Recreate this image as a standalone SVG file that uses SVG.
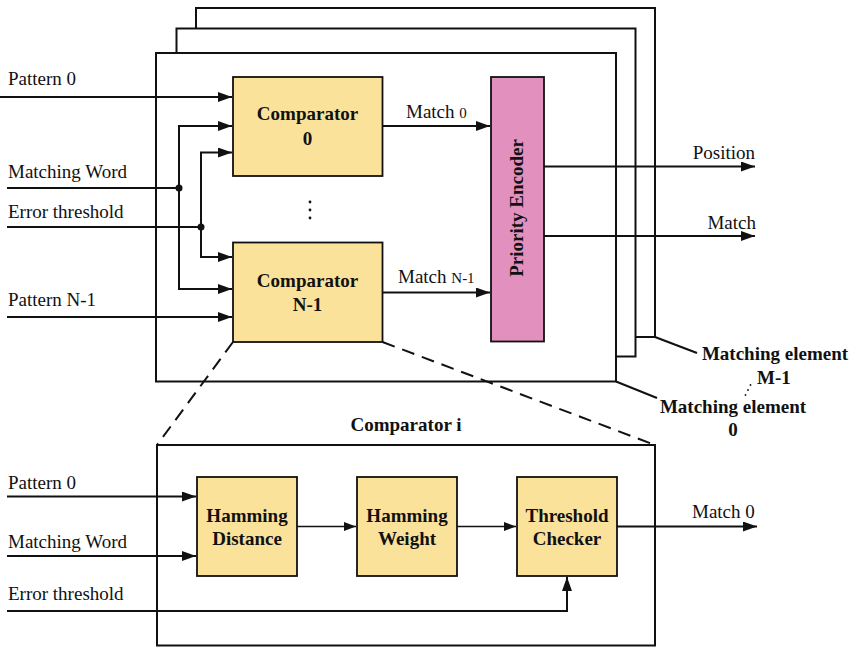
<svg xmlns="http://www.w3.org/2000/svg" width="853" height="648" viewBox="0 0 853 648">
<defs>
<marker id="ah" markerUnits="userSpaceOnUse" markerWidth="15" markerHeight="11" refX="14" refY="5" orient="auto"><path d="M0,0 L14,5 L0,10 z" fill="#111"/></marker>
<marker id="ahs" markerUnits="userSpaceOnUse" markerWidth="13" markerHeight="10" refX="12" refY="4.5" orient="auto"><path d="M0,0 L12,4.5 L0,9 z" fill="#111"/></marker>
<style>
.ln{stroke:#111;stroke-width:2;fill:none}
.thin{stroke:#111;stroke-width:1.5;fill:none}
.fr{stroke:#111;stroke-width:2;fill:#fff}
.cmp{fill:#FAE29B;stroke:#111;stroke-width:1.8}
.pe{fill:#E291BE;stroke:#111;stroke-width:1.8}
.t{font-family:"Liberation Serif",serif;font-size:19px;fill:#111}
.b{font-family:"Liberation Serif",serif;font-size:19px;font-weight:bold;fill:#111}
.s{font-size:15px}
.dash{stroke:#111;stroke-width:2;fill:none;stroke-dasharray:13,8}
</style>
</defs>
<rect width="853" height="648" fill="#fff"/>
<g id="frames">
<rect class="fr" x="196" y="8" width="459" height="329"/>
<rect class="fr" x="176.5" y="28.5" width="459" height="328"/>
<rect class="fr" x="156" y="53" width="460" height="328.5"/>
</g>
<g id="comparator0">
<rect class="cmp" x="233" y="77" width="149.5" height="99"/>
<text class="b" x="307.5" y="120" text-anchor="middle">Comparator</text>
<text class="b" x="307.5" y="145" text-anchor="middle">0</text>
</g>
<g id="comparatorN1">
<rect class="cmp" x="233" y="242.5" width="149.5" height="99.5"/>
<text class="b" x="307.5" y="287" text-anchor="middle">Comparator</text>
<text class="b" x="307.5" y="311" text-anchor="middle">N-1</text>
</g>
<g id="priority-encoder">
<rect class="pe" x="491" y="77" width="53" height="264.5"/>
<text class="b" transform="translate(523,208) rotate(-90)" text-anchor="middle">Priority Encoder</text>
</g>
<g id="vdots" fill="#111">
<circle cx="310" cy="202" r="1.4"/><circle cx="310" cy="210" r="1.4"/><circle cx="310" cy="218" r="1.4"/>
</g>
<g id="connectors">
<line class="ln" x1="0" y1="97" x2="232" y2="97" marker-end="url(#ah)"/>
<polyline class="ln" points="179,188 179,126 232,126" marker-end="url(#ah)"/>
<polyline class="ln" points="179,188 179,289 232,289" marker-end="url(#ah)"/>
<line class="ln" x1="7" y1="188" x2="179" y2="188"/>
<polyline class="ln" points="201,227 201,152.5 232,152.5" marker-end="url(#ah)"/>
<polyline class="ln" points="201,227 201,257 232,257" marker-end="url(#ah)"/>
<line class="ln" x1="7" y1="227" x2="201" y2="227"/>
<line class="ln" x1="7" y1="317" x2="232" y2="317" marker-end="url(#ah)"/>
<circle cx="179" cy="188" r="3.5" fill="#111"/>
<circle cx="201" cy="227" r="3.5" fill="#111"/>
<line class="ln" x1="382.5" y1="126" x2="490" y2="126" marker-end="url(#ah)"/>
<line class="ln" x1="382.5" y1="292.5" x2="490" y2="292.5" marker-end="url(#ah)"/>
<line class="ln" x1="544" y1="166.5" x2="755" y2="166.5" marker-end="url(#ah)"/>
<line class="ln" x1="544" y1="236" x2="755" y2="236" marker-end="url(#ah)"/>
<line class="ln" x1="655" y1="337" x2="697" y2="353"/>
<line class="ln" x1="616" y1="381.5" x2="657" y2="398"/>
<line class="dash" x1="233" y1="342" x2="157" y2="445"/>
<line class="dash" x1="382.5" y1="342" x2="655" y2="445"/>
</g>
<g id="labels-top">
<text class="t" x="8" y="85">Pattern 0</text>
<text class="t" x="8" y="178">Matching Word</text>
<text class="t" x="8" y="218">Error threshold</text>
<text class="t" x="8" y="306">Pattern N-1</text>
<text class="t" x="406" y="118">Match <tspan class="s">0</tspan></text>
<text class="t" x="398" y="283">Match <tspan class="s">N-1</tspan></text>
<text class="t" x="755" y="159" text-anchor="end">Position</text>
<text class="t" x="756" y="229" text-anchor="end">Match</text>
<text class="b" x="775" y="360" text-anchor="middle">Matching element</text>
<text class="b" x="774" y="384" text-anchor="middle">M-1</text>
<text class="b" x="733" y="413" text-anchor="middle">Matching element</text>
<text class="b" x="733" y="436" text-anchor="middle">0</text>
<g fill="#111"><circle cx="745.5" cy="395" r="0.9"/><circle cx="748" cy="390" r="0.9"/><circle cx="750.5" cy="385" r="0.9"/></g>
</g>
<g id="comparator-i">
<rect class="fr" x="157" y="445" width="498" height="200.5"/>
<text class="b" x="406" y="431" text-anchor="middle">Comparator i</text>
</g>
<g id="hamming-distance">
<rect class="cmp" x="197" y="477" width="100" height="99"/>
<text class="b" x="247" y="522" text-anchor="middle">Hamming</text>
<text class="b" x="247" y="545" text-anchor="middle">Distance</text>
</g>
<g id="hamming-weight">
<rect class="cmp" x="357" y="477" width="100" height="99"/>
<text class="b" x="407" y="522" text-anchor="middle">Hamming</text>
<text class="b" x="407" y="545" text-anchor="middle">Weight</text>
</g>
<g id="threshold-checker">
<rect class="cmp" x="517" y="477" width="100" height="99"/>
<text class="b" x="567" y="522" text-anchor="middle">Threshold</text>
<text class="b" x="567" y="545" text-anchor="middle">Checker</text>
</g>
<g id="connectors-lower">
<line class="ln" x1="7" y1="496.5" x2="196" y2="496.5" marker-end="url(#ah)"/>
<line class="ln" x1="7" y1="556" x2="196" y2="556" marker-end="url(#ah)"/>
<polyline class="ln" points="7,611 567,611 567,577" marker-end="url(#ah)"/>
<line class="thin" x1="297" y1="526.5" x2="356" y2="526.5" marker-end="url(#ahs)"/>
<line class="thin" x1="457" y1="526.5" x2="516" y2="526.5" marker-end="url(#ahs)"/>
<line class="ln" x1="617" y1="526.5" x2="757" y2="526.5" marker-end="url(#ah)"/>
</g>
<g id="labels-lower">
<text class="t" x="8" y="489">Pattern 0</text>
<text class="t" x="8" y="548">Matching Word</text>
<text class="t" x="8" y="600">Error threshold</text>
<text class="t" x="692" y="518">Match 0</text>
</g>
</svg>
